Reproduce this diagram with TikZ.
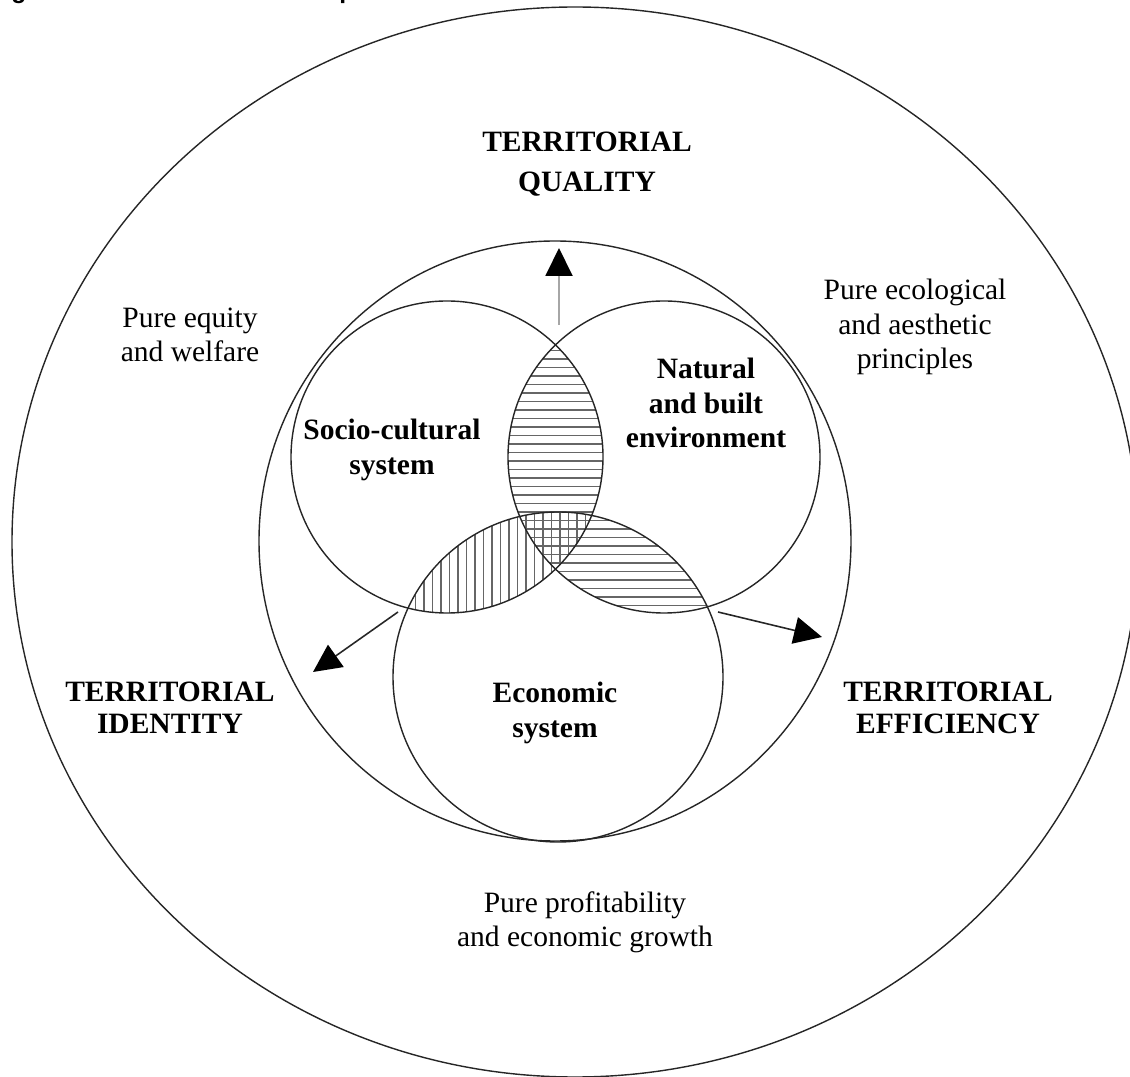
\documentclass[tikz,border=0pt]{standalone}
\usepackage{fontspec}
\setmainfont{Liberation Serif}
\newfontfamily\titlefont{Liberation Sans}
\usetikzlibrary{arrows.meta}
\begin{document}
\begin{tikzpicture}[x=0.02cm,y=-0.02cm,
  ring/.style={line width=0.8pt, draw=black!85},
  hatch/.style={line width=0.6pt, draw=black!60},
  boldtxt/.style={font=\fontsize{16.8}{19.8}\selectfont\bfseries, align=center, inner sep=0pt},
  plaintxt/.style={font=\fontsize{16.8}{19.5}\selectfont, align=center, inner sep=0pt},
  bigtxt/.style={font=\fontsize{16.8}{18.5}\selectfont\bfseries, align=center, inner sep=0pt},
  tipped/.style={-{Triangle[length=0.56cm,width=0.54cm,color=black]}},
]
\useasboundingbox (0,0) rectangle (1130,1077);

% centres
\coordinate (outer) at (575,542);
\coordinate (middle) at (555,541);
\coordinate (soc) at (447,457);
\coordinate (nat) at (664,457);
\coordinate (eco) at (558,677);

% title fragment cut by the top edge
\node[font=\titlefont\bfseries\fontsize{14}{16}\selectfont, anchor=base west, inner sep=0pt] (tg) at (11,-1) {g};
\node[font=\titlefont\bfseries\fontsize{14}{16}\selectfont, anchor=base west, inner sep=0pt] (tp) at (339,-1) {p};

% hatching: socio-cultural & natural (horizontal)
\begin{scope}
  \clip (soc) circle (156);
  \clip (nat) circle (156);
  \foreach \y in {342,350.5,...,620} \draw[hatch] (280,\y) -- (840,\y);
\end{scope}
% natural & economic (horizontal)
\begin{scope}
  \clip (nat) circle (156);
  \clip (eco) circle (165);
  \foreach \y in {342,350.5,...,620} \draw[hatch] (280,\y) -- (840,\y);
\end{scope}
% socio-cultural & economic (vertical)
\begin{scope}
  \clip (soc) circle (156);
  \clip (eco) circle (165);
  \foreach \x in {390,398.5,...,620} \draw[hatch] (\x,480) -- (\x,640);
\end{scope}

% circles
\draw[ring] (outer) circle[x radius=563, y radius=535];
\draw[ring] (middle) circle[x radius=296, y radius=300];
\draw[ring] (soc) circle (156);
\draw[ring] (nat) circle (156);
\draw[ring] (eco) circle (165);

% arrows
\coordinate (qs) at (559,325); \coordinate (qe) at (559,248);
\coordinate (is) at (398,612); \coordinate (ie) at (313,672);
\coordinate (es) at (718,612); \coordinate (ee) at (822,637);
\draw[tipped, draw=black!35, line width=1.1pt] (qs) -- (qe);
\draw[tipped, draw=black!85, line width=0.9pt] (is) -- (ie);
\draw[tipped, draw=black!85, line width=0.9pt] (es) -- (ee);

% labels
\node[bigtxt, font=\fontsize{16.8}{23}\selectfont\bfseries] (quality) at (587,164) {TERRITORIAL\\QUALITY};
\node[bigtxt] (identity) at (170,708) {TERRITORIAL\\IDENTITY};
\node[bigtxt] (efficiency) at (948,708) {TERRITORIAL\\EFFICIENCY};

\node[boldtxt] (socl) at (392,450) {Socio-cultural\\system};
\node[boldtxt] (natl) at (706,403) {Natural\\and built\\environment};
\node[boldtxt] (ecol) at (555,713) {Economic\\system};

\node[plaintxt] (equity) at (190,335) {Pure equity\\and welfare};
\node[plaintxt] (ecolog) at (915,327) {Pure ecological\\and aesthetic\\principles};
\node[plaintxt] (profit) at (585,922) {Pure profitability\\and economic growth};
\end{tikzpicture}
\end{document}
